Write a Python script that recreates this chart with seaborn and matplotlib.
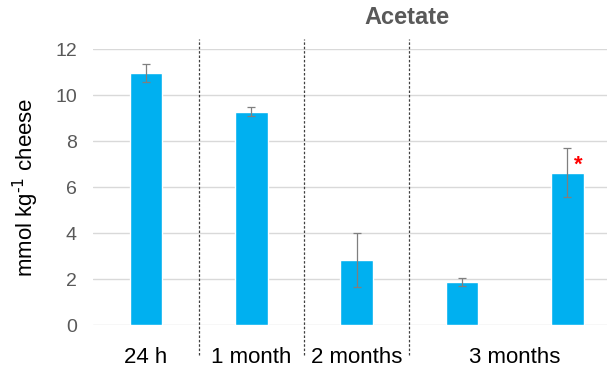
import matplotlib
matplotlib.use("Agg")
import matplotlib.pyplot as plt
import seaborn as sns
import numpy as np

# Acetate content per ripening stage (two samples at 3 months)
positions = [0, 1, 2, 3, 4]
acetate = [10.95, 9.28, 2.83, 1.88, 6.63]
acetate_sd = [0.40, 0.18, 1.16, 0.18, 1.05]
significant = [False, False, False, False, True]

tick_positions = [0, 1, 2, 3.5]
tick_labels = ["24 h", "1 month", "2 months", "3 months"]
dividers = [0.5, 1.5, 2.5]
y_ticks = [0, 2, 4, 6, 8, 10, 12]

sns.set_theme(style="white")
plt.rcParams["font.family"] = ["Liberation Sans", "DejaVu Sans"]

fig = plt.figure(figsize=(6.07, 3.72), dpi=100)
ax = fig.add_axes([0.1539, 0.1263, 0.8674, 0.7419])

sns.barplot(x=positions, y=acetate, color="#00B0F0", saturation=1,
            width=0.31, ax=ax, zorder=3)
ax.errorbar(positions, acetate, yerr=acetate_sd, fmt="none",
            ecolor="#7f7f7f", elinewidth=0.9, capsize=2.6, capthick=0.9,
            zorder=4)

for i, flag in enumerate(significant):
    if flag:
        ax.annotate("*", xy=(positions[i], acetate[i]), xytext=(8, -2),
                    textcoords="offset points", ha="center", va="bottom",
                    color="#ff0000", fontsize=16, fontweight="bold")

ax.set_xlim(-0.5, 4.5)
ax.set_ylim(0, 12)
ax.set_yticks(y_ticks)
ax.yaxis.grid(True, color="#d9d9d9", linewidth=1.0, zorder=0)
ax.xaxis.grid(False)
for s in ax.spines.values():
    s.set_visible(False)

ax.set_xticks(tick_positions)
ax.set_xticklabels(tick_labels)
ax.tick_params(axis="x", length=0, pad=16, labelsize=16, labelcolor="#000000")
ax.tick_params(axis="y", length=0, pad=12, labelsize=14, labelcolor="#595959")

for d in dividers:
    ax.axvline(d, ymin=-0.109, ymax=1.036, color="#404040", linewidth=0.9,
               linestyle=(0, (2, 1.5)), clip_on=False, zorder=2)

ax.set_ylabel("mmol kg$^{\\text{-1}}$ cheese", fontsize=16,
              color="#000000", labelpad=10)
ax.set_xlabel("")

fig.text(407 / 607, 1 - 17 / 372, "Acetate", ha="center", va="center",
         fontsize=17, fontweight="bold", color="#595959")

fig.savefig("out.png", dpi=100)
